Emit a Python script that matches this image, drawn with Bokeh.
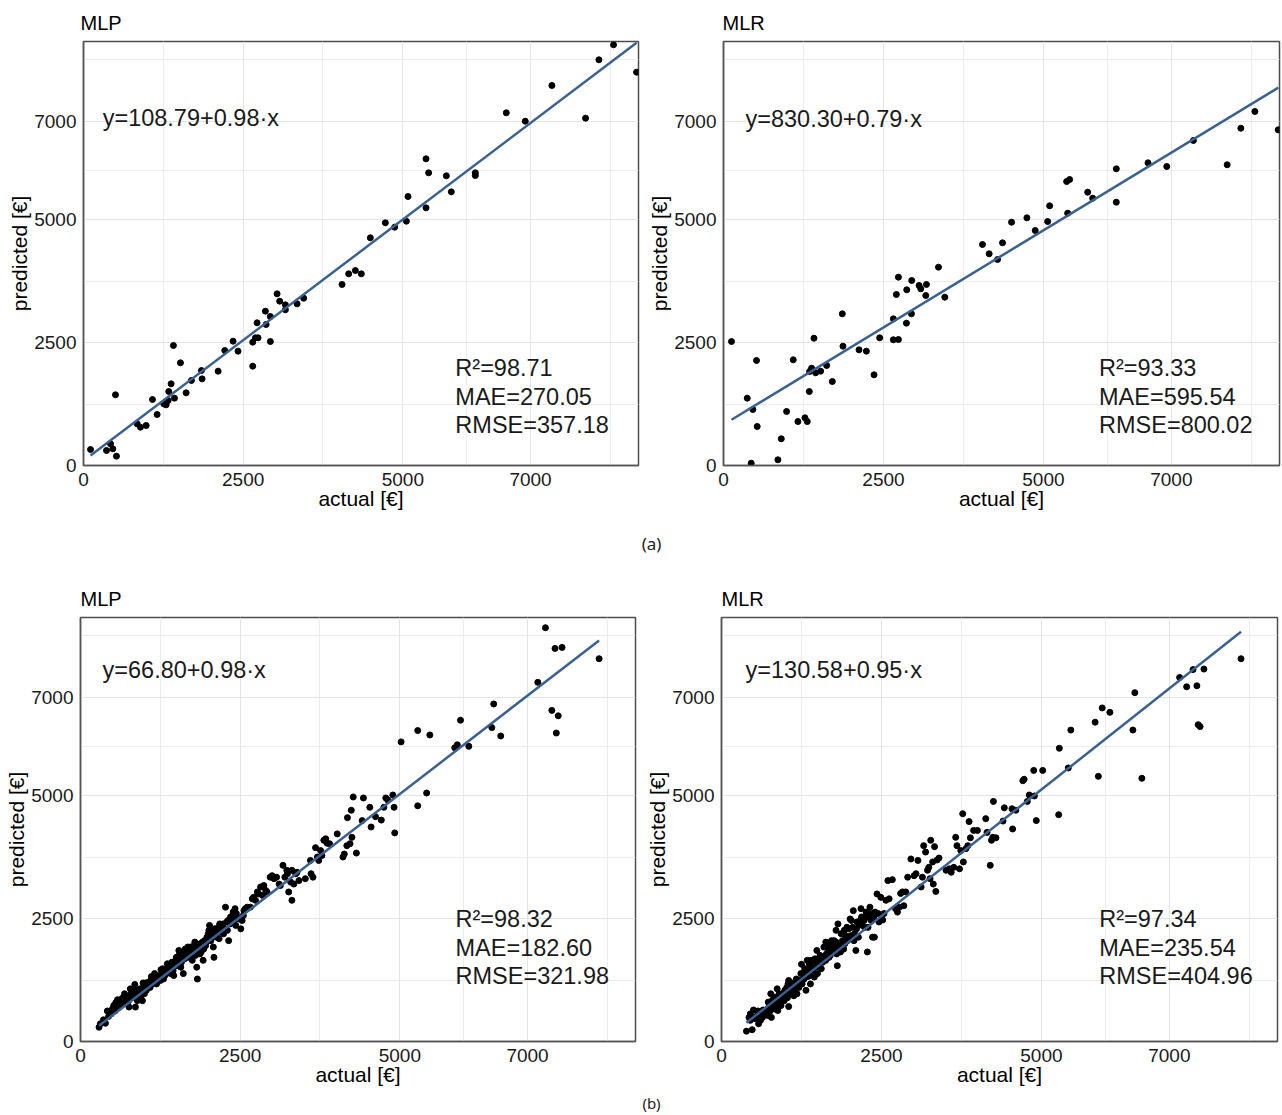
from bokeh.plotting import figure
from bokeh.models import Range1d, FixedTicker, Label
from bokeh.layouts import column, row
from bokeh.embed import file_html
from bokeh.resources import INLINE

FONT = "Liberation Sans"
X_MAX = 8690
Y_MAX = 8618
major_ticks = [0, 2500, 5000, 7000]
minor_ticks = [1250, 3750, 6000, 8250]

# ---------------- (a) MLP ----------------
a_mlp_actual = [110, 360, 423, 459, 516, 501, 840, 892, 981, 1080,
                1153, 1257, 1294, 1325, 1335, 1372, 1424, 1408, 1518, 1607,
                1690, 1847, 1857, 2108, 2212, 2342, 2420, 2650, 2650, 2692,
                2733, 2718, 2859, 2926, 2848, 2926, 3031, 3072, 3161, 3161,
                3344, 3448, 4048, 4152, 4257, 4350, 4491, 4726, 4872, 5055,
                5081, 5363, 5363, 5404, 5681, 5759, 6135, 6135, 6620, 6917,
                7334, 7861, 8070, 8299, 8660]
a_mlp_pred = [325, 305, 441, 339, 190, 1437, 847, 779, 813, 1341,
              1037, 1253, 1233, 1321, 1504, 1660, 1369, 2439, 2087, 1477,
              1728, 1931, 1761, 1917, 2337, 2527, 2324, 2019, 2507, 2595,
              2595, 2900, 2866, 2520, 3137, 3028, 3489, 3340, 3266, 3165,
              3286, 3401, 3679, 3896, 3963, 3896, 4628, 4933, 4844, 4966,
              5467, 5237, 6233, 5949, 5888, 5562, 5949, 5894, 7168, 6998,
              7724, 7060, 8246, 8551, 7994]

# ---------------- (a) MLR ----------------
a_mlr_actual = [125, 371, 459, 433, 516, 527, 903, 850, 986, 1090,
                1163, 1273, 1309, 1341, 1346, 1377, 1414, 1440, 1518, 1612,
                1701, 1857, 1867, 2118, 2233, 2353, 2441, 2655, 2734, 2655,
                2702, 2734, 2859, 2937, 2864, 2942, 3057, 3083, 3161, 3172,
                3360, 3459, 4048, 4152, 4283, 4361, 4502, 4742, 4872, 5066,
                5097, 5379, 5363, 5410, 5692, 5770, 6139, 6139, 6635, 6928,
                7344, 7872, 8086, 8305, 8670]
a_mlr_pred = [2520, 1369, 1138, 47, 2134, 793, 543, 116, 1098, 2148,
              894, 969, 894, 1504, 1911, 1978, 2588, 1884, 1917, 2033,
              1707, 3083, 2425, 2351, 2324, 1843, 2595, 2555, 2561, 2981,
              3476, 3828, 2893, 3083, 3571, 3760, 3659, 3591, 3455, 3679,
              4031, 3421, 4492, 4303, 4187, 4526, 4945, 5034, 4776, 4959,
              5278, 5128, 5772, 5813, 5555, 5433, 6030, 5352, 6152, 6077,
              6606, 6112, 6856, 7195, 6823]

# ---------------- (b) MLP ----------------
b_mlp_actual = [290, 390, 420, 460, 500, 520, 550, 570, 600, 630,
                650, 680, 700, 730, 760, 780, 790, 820, 850, 860,
                890, 910, 940, 970, 990, 1020, 1040, 1070, 1100, 1120,
                1150, 1170, 1200, 1250, 1280, 1300, 1350, 1360, 1380, 1410,
                1440, 1460, 1490, 1510, 1540, 1560, 1580, 1590, 1610, 1630,
                1640, 1670, 1700, 1720, 1750, 1780, 1790, 1800, 1820, 1830,
                1850, 1870, 1890, 1910, 1920, 1930, 1960, 1980, 2000, 2020,
                2040, 2060, 2080, 2090, 2110, 2140, 2170, 2180, 2190, 2220,
                2240, 2270, 2290, 2300, 2320, 2350, 2380, 2400, 2420, 2430,
                2450, 2510, 2530, 2560, 2580, 2610, 2660, 2690, 2710, 2740,
                2770, 2790, 2820, 2850, 2870, 2900, 2920, 2970, 3000, 3030,
                3070, 3110, 3130, 3170, 3200, 3230, 3240, 3260, 3290, 3310,
                3310, 3340, 3370, 3390, 3420, 3520, 3600, 3610, 3640, 3680,
                3710, 3730, 3760, 3780, 3810, 3840, 3860, 3900, 4020, 4110,
                4130, 4170, 4180, 4220, 4240, 4250, 4270, 4320,
                310, 360, 440, 480, 510, 540, 560, 580, 620, 640,
                670, 690, 720, 750, 770, 810, 840, 880, 900, 930,
                960, 980, 1000, 1030, 1050, 1090, 1110, 1140, 1160, 1190,
                1210, 1240, 1260, 1290, 1320, 1370, 1400, 1430, 1450, 1480,
                1500, 1520, 1550, 1570, 1600, 1620, 1650, 1680, 1710, 1730,
                1760, 1790, 1840, 1880, 1940, 1970, 2010, 2050, 2100, 2130,
                2160, 2210, 2230, 2260, 2310, 2340, 2390, 2440, 2480, 2550,
                4410, 4430, 4530, 4550, 4620, 4710, 4750, 4780, 4810, 4890,
                4910, 4920, 5020, 5280, 5280, 5420, 5470, 5860, 5900, 5950,
                6080, 6440, 6470, 6580, 7160, 7280, 7380, 7430, 7450, 7480,
                7540, 8120]
b_mlp_pred = [290, 370, 620, 600, 660, 730, 780, 700, 750, 830,
              870, 800, 850, 900, 700, 1070, 970, 930, 1160, 700,
              830, 970, 900, 830, 1100, 1190, 1070, 1210, 1240, 1170,
              1310, 1230, 1320, 1240, 1380, 1270, 1420, 1580, 1440, 1380,
              1510, 1340, 1650, 1540, 1850, 1710, 1610, 1780, 1380, 1680,
              1880, 1820, 1710, 1920, 1650, 1950, 1820, 1750, 1510, 1270,
              1920, 1780, 1820, 2020, 1650, 1880, 1950, 2120, 2190, 2360,
              2050, 2120, 1920, 1710, 2190, 2220, 2090, 2390, 2290, 2320,
              2190, 2730, 2430, 2260, 2050, 2530, 2560, 2460, 2700, 2360,
              2530, 2290, 2460, 2660, 2700, 2730, 2730, 2900, 2930, 2870,
              3040, 3000, 3140, 2970, 3170, 3070, 3040, 3340, 3370, 3310,
              3340, 3200, 3170, 3580, 3340, 3480, 3410, 3040, 3240, 3480,
              2870, 3200, 3410, 3440, 3270, 3310, 3680, 3410, 3340, 3940,
              3750, 3680, 3880, 3780, 4090, 4120, 4030, 4020, 4220, 3750,
              3810, 3980, 4550, 4020, 4700, 4150, 4970, 3830,
              360, 440, 510, 560, 640, 620, 800, 850, 730, 780,
              900, 970, 770, 820, 870, 1040, 890, 1040, 930, 1070,
              1000, 1190, 970, 1040, 1160, 1100, 1320, 1240, 1380, 1170,
              1270, 1340, 1460, 1480, 1340, 1500, 1570, 1610, 1440, 1580,
              1710, 1650, 1770, 1510, 1710, 1820, 1750, 1920, 1850, 1750,
              1880, 2020, 1850, 1990, 2050, 2020, 2260, 2220, 2290, 2120,
              2320, 2220, 2390, 2290, 2460, 2390, 2630, 2600, 2490, 2560,
              4490, 4950, 4760, 4360, 4570, 4500, 4760, 4950, 4910, 5010,
              4760, 4240, 6090, 6320, 4790, 5050, 6230, 5970, 6030, 6530,
              6000, 6380, 6860, 6210, 7300, 8410, 6730, 7990, 6270, 6620,
              8010, 7780]

# ---------------- (b) MLR ----------------
b_mlr_actual = [390, 480, 500, 430, 450, 520, 560, 580, 610, 640,
                660, 690, 720, 740, 770, 780, 790, 820, 830, 850,
                870, 880, 910, 920, 950, 980, 1000, 1020, 1040, 1050,
                1050, 1080, 1110, 1130, 1160, 1180, 1210, 1240, 1250, 1260,
                1290, 1320, 1330, 1340, 1370, 1370, 1390, 1420, 1450, 1470,
                1490, 1500, 1520, 1540, 1560, 1580, 1600, 1610, 1630, 1640,
                1670, 1680, 1710, 1730, 1750, 1760, 1790, 1800, 1810, 1820,
                1840, 1850, 1860, 1890, 1910, 1930, 1940, 1970, 1990, 2010,
                2020, 2050, 2060, 2070, 2080, 2100, 2110, 2140, 2150, 2170,
                2180, 2200, 2230, 2260, 2280, 2290, 2320, 2330, 2360, 2390,
                2400, 2430, 2460, 2490, 2520, 2540, 2570, 2600, 2620, 2670,
                2720, 2750, 2780, 2800, 2830, 2850, 2880, 2910, 2960, 3010,
                3040, 3070, 3120, 3140, 3160, 3190, 3220, 3240, 3260, 3270,
                3300, 3310, 3330, 3350, 3370, 3400, 3510, 3560, 3590, 3630,
                3660, 3680, 3720, 3740, 3770, 3780, 3820, 3850, 3870, 3890,
                3940, 4000, 4130, 4150, 4200, 4220, 4240, 4250, 4290, 4400,
                4420, 4540, 4550, 4600, 4710, 4730, 4780, 4810, 4890, 4880,
                4920, 5020, 5270, 5280, 5420, 5460, 5840, 5890, 5950, 6070,
                6430, 6460, 6570, 7160, 7270, 7370, 7430, 7540, 7450, 7480,
                8120,
                450, 530, 570, 600, 650, 700, 730, 760, 810, 860,
                900, 930, 970, 990, 1030, 1070, 1090, 1120, 1140, 1170,
                1200, 1230, 1280, 1300, 1350, 1380, 1400, 1440, 1460, 1510,
                1550, 1590, 1630, 1650, 1700, 1720, 1770, 1790, 1870, 1920,
                1960, 1980, 2030, 2120, 2190, 2240, 2270, 2340, 2380, 2450]
b_mlr_pred = [210, 240, 640, 490, 430, 490, 530, 360, 430, 490,
              560, 640, 530, 700, 970, 490, 830, 900, 660, 730,
              1070, 630, 800, 900, 970, 830, 1000, 1100, 1170, 1240,
              710, 970, 1040, 930, 1170, 970, 1100, 1380, 1570, 1170,
              1270, 1040, 1440, 1650, 1580, 1340, 1170, 1440, 1310, 1510,
              1850, 1380, 1650, 1750, 1480, 1610, 1920, 1680, 2020, 1780,
              1850, 1710, 1880, 1990, 1850, 2050, 2260, 1780, 1540, 2390,
              1920, 1950, 1820, 2050, 1880, 1990, 2150, 2050, 2290, 2490,
              2150, 2320, 2660, 2050, 2190, 1850, 2290, 2120, 2390, 2460,
              2700, 2360, 2460, 2630, 1820, 2320, 2730, 2600, 2120, 2120,
              2630, 3000, 2430, 2930, 2470, 2600, 2870, 3270, 2900, 3290,
              2700, 2630, 2730, 3010, 3040, 2760, 3040, 3340, 3710, 3370,
              3410, 3680, 3140, 3340, 3980, 3850, 3480, 3540, 3310, 4090,
              3650, 3200, 3960, 3050, 3690, 3730, 3480, 3510, 3440, 3540,
              4150, 3980, 3510, 3880, 4630, 3650, 3920, 3980, 4470, 4140,
              4290, 4290, 4530, 4250, 3580, 4090, 4150, 4880, 4140, 4480,
              4750, 4730, 4320, 4700, 5300, 5330, 4880, 5010, 4990, 5510,
              4490, 5510, 4610, 5960, 5560, 6330, 6490, 5390, 6780, 6690,
              6330, 7090, 5350, 7400, 7210, 7560, 7230, 7570, 6440, 6400,
              7780,
              560, 460, 620, 560, 640, 600, 800, 620, 770, 850,
              970, 730, 930, 1040, 890, 1040, 1140, 1190, 1040, 1270,
              1160, 1240, 1380, 1480, 1320, 1480, 1650, 1570, 1680, 1540,
              1650, 1710, 1650, 1950, 1750, 2050, 1920, 2020, 2190, 2260,
              2320, 2120, 2460, 2430, 2530, 2320, 2530, 2460, 2530, 2600]

# fitted lines as drawn (intercept, slope)
fit_lines = {"a_mlp": (95, 0.981), "a_mlr": (830, 0.79),
             "b_mlp": (30, 1.0), "b_mlr": (-20, 1.028)}
equations = {"a_mlp": "y=108.79+0.98\u00b7x", "a_mlr": "y=830.30+0.79\u00b7x",
             "b_mlp": "y=66.80+0.98\u00b7x", "b_mlr": "y=130.58+0.95\u00b7x"}
stats = {"a_mlp": ["R\u00b2=98.71", "MAE=270.05", "RMSE=357.18"],
         "a_mlr": ["R\u00b2=93.33", "MAE=595.54", "RMSE=800.02"],
         "b_mlp": ["R\u00b2=98.32", "MAE=182.60", "RMSE=321.98"],
         "b_mlr": ["R\u00b2=97.34", "MAE=235.54", "RMSE=404.96"]}


def panel(title, key, actual, pred, width, height, ml, mr, mt, mb,
          eq_x, eq_y, st_x, st_y, title_off):
    p = figure(width=width, height=height,
               x_range=Range1d(0, X_MAX), y_range=Range1d(0, Y_MAX),
               output_backend="svg", toolbar_location=None,
               min_border_left=ml, min_border_right=mr,
               min_border_top=mt, min_border_bottom=mb)
    p.background_fill_color = "white"
    p.border_fill_color = "white"
    p.outline_line_color = "#4d4d4d"
    p.outline_line_width = 1.5
    p.title.text = title
    p.title.text_font = FONT
    p.title.text_font_size = "20px"
    p.title.text_font_style = "normal"
    p.title.text_color = "black"
    p.title.align = "left"
    p.title.offset = title_off
    p.title.standoff = 15

    for ax in (p.xaxis[0], p.yaxis[0]):
        ax.ticker = FixedTicker(ticks=major_ticks, minor_ticks=minor_ticks)
        ax.major_label_overrides = {t: str(t) for t in major_ticks}
        ax.major_tick_line_color = None
        ax.minor_tick_line_color = None
        ax.major_tick_out = 0
        ax.major_tick_in = 0
        ax.minor_tick_out = 0
        ax.minor_tick_in = 0
        ax.major_label_text_font = FONT
        ax.major_label_text_font_size = "19px"
        ax.major_label_text_color = "#1a1a1a"
        ax.axis_label_text_font = FONT
        ax.axis_label_text_font_size = "21px"
        ax.axis_label_text_font_style = "normal"
        ax.axis_label_text_color = "black"
        ax.axis_line_color = "#555555"
        ax.axis_line_width = 1.5
    p.xaxis.axis_label = "actual [\u20ac]"
    p.yaxis.axis_label = "predicted [\u20ac]"
    p.xaxis.major_label_standoff = 7
    p.xaxis.axis_label_standoff = -2
    p.yaxis.major_label_standoff = 7
    p.yaxis.axis_label_standoff = 0

    for g in (p.xgrid[0], p.ygrid[0]):
        g.grid_line_color = "#e4e4e4"
        g.grid_line_width = 1
        g.minor_grid_line_color = "#ececec"
        g.minor_grid_line_width = 1

    p.scatter(actual, pred, size=6, fill_color="black", line_color="black")
    b0, b1 = fit_lines[key]
    xs = [min(actual), max(actual)]
    p.line(xs, [b0 + b1 * x for x in xs], line_color="#3a6192", line_width=2.5)

    p.add_layout(Label(x=eq_x, y=eq_y, text=equations[key], text_font=FONT,
                       text_font_size="23.5px", text_color="#1a1a1a",
                       text_align="left", text_baseline="middle"))
    for i, s in enumerate(stats[key]):
        p.add_layout(Label(x=st_x, y=st_y - i * 579, text=s, text_font=FONT,
                           text_font_size="23.5px", text_color="#1a1a1a",
                           text_align="left", text_baseline="middle"))
    return p


def label_fig(text, w, h, cx, cy, size):
    p = figure(width=w, height=h, x_range=Range1d(0, w), y_range=Range1d(0, h),
               output_backend="svg", toolbar_location=None, min_border=0,
               x_axis_location=None, y_axis_location=None)
    p.grid.visible = False
    p.outline_line_color = None
    p.background_fill_color = "white"
    p.border_fill_color = "white"
    p.add_layout(Label(x=cx, y=h - cy, text=text, text_font="Noto Sans",
                       text_font_size=size, text_color="#222222",
                       text_align="center", text_baseline="middle"))
    return p


# page origin is (0, 0): frames A1 x 83-638, A2 x 723-1279, y 41-465;
# B1 x 80-635, B2 x 721-1277, y 617-1041
pA1 = panel("MLP", "a_mlp", a_mlp_actual, a_mlp_pred, 643, 520, 83, 5, 41, 55,
            300, 7073, 5822, 1972, -3)
pA2 = panel("MLR", "a_mlr", a_mlr_actual, a_mlr_pred, 639, 520, 80, 3, 41, 55,
            344, 7040, 5869, 1972, -1)
labA = label_fig("(a)", 1282, 45, 651, 23, "17px")
pB1 = panel("MLP", "b_mlp", b_mlp_actual, b_mlp_pred, 640, 525, 80, 5, 52, 49,
            345, 7541, 5872, 2480, 0)
pB2 = panel("MLR", "b_mlr", b_mlr_actual, b_mlr_pred, 642, 525, 81, 5, 52, 49,
            376, 7541, 5904, 2480, 0)
labB = label_fig("(b)", 1282, 25, 651, 12, "15px")

layout = column(row(pA1, pA2), labA, row(pB1, pB2), labB)
open("out.html", "w").write(file_html(layout, INLINE))
